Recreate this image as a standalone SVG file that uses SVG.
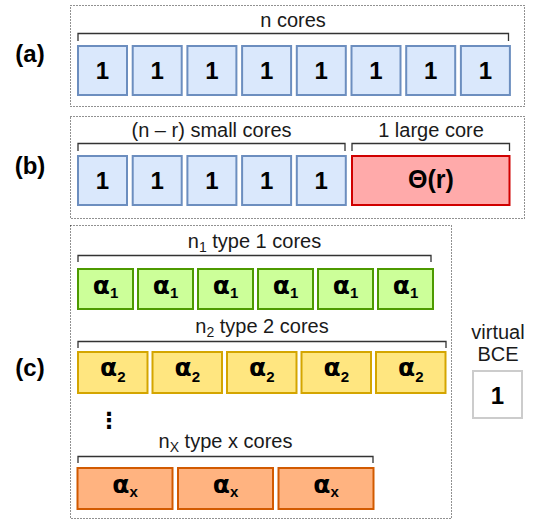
<svg xmlns="http://www.w3.org/2000/svg" width="538" height="523" viewBox="0 0 538 523">
<style>
text{font-family:"Liberation Sans",Arial,sans-serif;fill:#000}
.lab{font-size:20px;fill:#1a1a1a;text-anchor:middle}
.pl{font-size:24px;font-weight:bold;text-anchor:middle}
.num{font-size:24px;font-weight:bold;text-anchor:middle}
.a{font-family:"DejaVu Sans",sans-serif;font-size:25px}
.sub{font-size:14px}
.s2{font-size:15px;font-family:"Liberation Sans",Arial,sans-serif}
.frame{fill:none;stroke:#222;stroke-width:1;stroke-dasharray:1 2}
.br{fill:none;stroke:#333;stroke-width:1.3}
.blue{fill:#dae8fc;stroke:#6c8ebf;stroke-width:2}
.red{fill:#ffaaaa;stroke:#d00000;stroke-width:2}
.green{fill:#ccff99;stroke:#4d9a00;stroke-width:2}
.yellow{fill:#ffe680;stroke:#d4a500;stroke-width:2}
.orange{fill:#ffb380;stroke:#d25a00;stroke-width:2}
.gray{fill:#fff;stroke:#cccccc;stroke-width:2}
</style>
<rect width="538" height="523" fill="#fff"/>

<g id="panel-a">
<rect class="frame" x="70.5" y="5.5" width="454" height="101"/>
<text class="pl" x="30" y="62">(a)</text>
<text class="lab" x="293" y="27">n cores</text>
</g>
<g id="panel-b">
<rect class="frame" x="70.5" y="116.5" width="454" height="102"/>
<text class="pl" x="30" y="174">(b)</text>
<text class="lab" x="211.5" y="137">(n – r) small cores</text>
<text class="lab" x="431" y="137">1 large core</text>
</g>
<g id="panel-c">
<rect class="frame" x="70.5" y="225.5" width="381" height="293"/>
<text class="pl" x="30" y="376">(c)</text>
<text class="lab" x="254.5" y="248">n<tspan class="sub" dy="4">1</tspan><tspan dy="-4"> type 1 cores</tspan></text>
<text class="lab" x="262" y="333">n<tspan class="sub" dy="4">2</tspan><tspan dy="-4"> type 2 cores</tspan></text>
<text class="lab" x="225.5" y="448">n<tspan class="sub" dy="4">X</tspan><tspan dy="-4"> type x cores</tspan></text>
<text x="109" y="428" style="font-family:'DejaVu Sans',sans-serif;font-size:22px;font-weight:bold;text-anchor:middle">⋮</text>
</g>

<g id="connectors">
<path class="br" d="M78,41V33.5H508.5V41"/>
<path class="br" d="M78,151V143.5H345V151"/>
<path class="br" d="M352,151V143.5H509.5V151"/>
<path class="br" d="M78,262V255.5H431V262"/>
<path class="br" d="M78,348V341.5H446V348"/>
<path class="br" d="M78,463V456.5H373V463"/>
</g>

<g id="a-cores">
<g id="a1"><rect class="blue" x="78" y="46" width="49" height="49"/><text class="num" x="102.5" y="79">1</text></g>
<g id="a2"><rect class="blue" x="132.7" y="46" width="49" height="49"/><text class="num" x="157.2" y="79">1</text></g>
<g id="a3"><rect class="blue" x="187.4" y="46" width="49" height="49"/><text class="num" x="211.9" y="79">1</text></g>
<g id="a4"><rect class="blue" x="242.1" y="46" width="49" height="49"/><text class="num" x="266.6" y="79">1</text></g>
<g id="a5"><rect class="blue" x="296.8" y="46" width="49" height="49"/><text class="num" x="321.3" y="79">1</text></g>
<g id="a6"><rect class="blue" x="351.5" y="46" width="49" height="49"/><text class="num" x="376" y="79">1</text></g>
<g id="a7"><rect class="blue" x="406.2" y="46" width="49" height="49"/><text class="num" x="430.7" y="79">1</text></g>
<g id="a8"><rect class="blue" x="460.9" y="46" width="49" height="49"/><text class="num" x="485.4" y="79">1</text></g>
</g>

<g id="b-cores">
<g id="b1"><rect class="blue" x="78" y="156" width="49" height="49"/><text class="num" x="102.5" y="189">1</text></g>
<g id="b2"><rect class="blue" x="132.7" y="156" width="49" height="49"/><text class="num" x="157.2" y="189">1</text></g>
<g id="b3"><rect class="blue" x="187.4" y="156" width="49" height="49"/><text class="num" x="211.9" y="189">1</text></g>
<g id="b4"><rect class="blue" x="242.1" y="156" width="49" height="49"/><text class="num" x="266.6" y="189">1</text></g>
<g id="b5"><rect class="blue" x="296.8" y="156" width="49" height="49"/><text class="num" x="321.3" y="189">1</text></g>
<g id="b-large"><rect class="red" x="352" y="156" width="157.5" height="49"/><text class="num" x="431" y="188" style="font-size:25px">Θ(r)</text></g>
</g>

<g id="c-type1">
<g id="g1"><rect class="green" x="78" y="269" width="55" height="40"/><text class="num" x="105.5" y="294"><tspan class="a">α</tspan><tspan class="s2" dy="4">1</tspan></text></g>
<g id="g2"><rect class="green" x="138" y="269" width="55" height="40"/><text class="num" x="165.5" y="294"><tspan class="a">α</tspan><tspan class="s2" dy="4">1</tspan></text></g>
<g id="g3"><rect class="green" x="198" y="269" width="55" height="40"/><text class="num" x="225.5" y="294"><tspan class="a">α</tspan><tspan class="s2" dy="4">1</tspan></text></g>
<g id="g4"><rect class="green" x="258" y="269" width="55" height="40"/><text class="num" x="285.5" y="294"><tspan class="a">α</tspan><tspan class="s2" dy="4">1</tspan></text></g>
<g id="g5"><rect class="green" x="318" y="269" width="55" height="40"/><text class="num" x="345.5" y="294"><tspan class="a">α</tspan><tspan class="s2" dy="4">1</tspan></text></g>
<g id="g6"><rect class="green" x="378" y="269" width="55" height="40"/><text class="num" x="405.5" y="294"><tspan class="a">α</tspan><tspan class="s2" dy="4">1</tspan></text></g>
</g>

<g id="c-type2">
<g id="y1"><rect class="yellow" x="78" y="352" width="69.5" height="41"/><text class="num" x="112.75" y="376"><tspan class="a">α</tspan><tspan class="s2" dy="6">2</tspan></text></g>
<g id="y2"><rect class="yellow" x="152.5" y="352" width="69.5" height="41"/><text class="num" x="187.25" y="376"><tspan class="a">α</tspan><tspan class="s2" dy="6">2</tspan></text></g>
<g id="y3"><rect class="yellow" x="227" y="352" width="69.5" height="41"/><text class="num" x="261.75" y="376"><tspan class="a">α</tspan><tspan class="s2" dy="6">2</tspan></text></g>
<g id="y4"><rect class="yellow" x="301.5" y="352" width="69.5" height="41"/><text class="num" x="336.25" y="376"><tspan class="a">α</tspan><tspan class="s2" dy="6">2</tspan></text></g>
<g id="y5"><rect class="yellow" x="376" y="352" width="69.5" height="41"/><text class="num" x="410.75" y="376"><tspan class="a">α</tspan><tspan class="s2" dy="6">2</tspan></text></g>
</g>

<g id="c-typex">
<g id="o1"><rect class="orange" x="77.5" y="468" width="95" height="41"/><text class="num" x="125" y="493"><tspan class="a">α</tspan><tspan class="s2" dy="4">x</tspan></text></g>
<g id="o2"><rect class="orange" x="178" y="468" width="95" height="41"/><text class="num" x="225.5" y="493"><tspan class="a">α</tspan><tspan class="s2" dy="4">x</tspan></text></g>
<g id="o3"><rect class="orange" x="278.5" y="468" width="95" height="41"/><text class="num" x="326" y="493"><tspan class="a">α</tspan><tspan class="s2" dy="4">x</tspan></text></g>
</g>

<g id="virtual-bce">
<text class="lab" x="498" y="339">virtual</text>
<text class="lab" x="498" y="361">BCE</text>
<rect class="gray" x="473" y="371" width="49" height="47"/>
<text class="num" x="497.5" y="404">1</text>
</g>
</svg>
